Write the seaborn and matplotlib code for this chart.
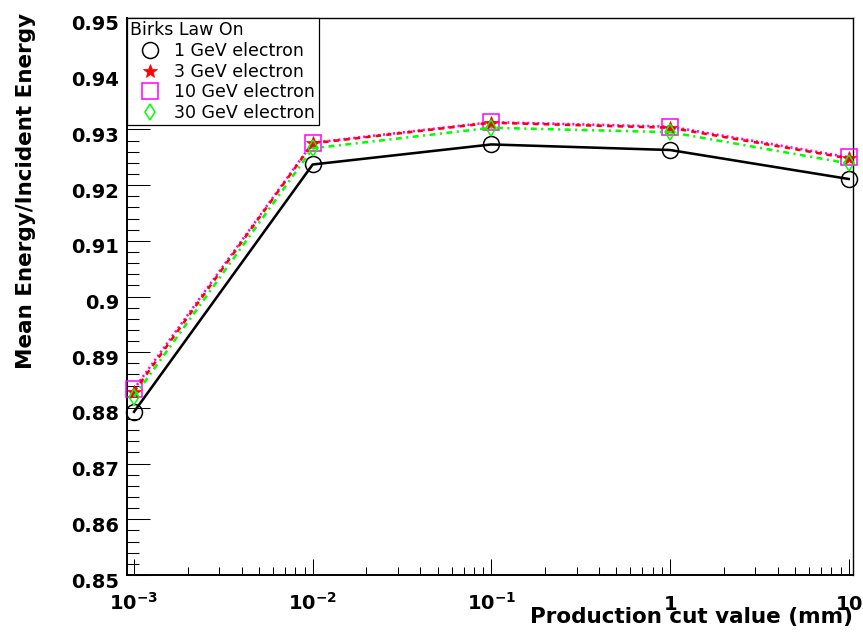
import numpy as np
import matplotlib
matplotlib.use("Agg")
import matplotlib.pyplot as plt
import matplotlib.transforms as mtransforms
from matplotlib.lines import Line2D
import seaborn as sns

# Mean deposited energy fraction versus production cut, one series per beam energy
cut_mm = [1e-3, 1e-2, 1e-1, 1.0, 10.0]
resp_1gev = [0.8793, 0.9237, 0.9273, 0.9263, 0.9211]
resp_3gev = [0.8829, 0.9275, 0.9312, 0.9303, 0.9248]
resp_10gev = [0.8834, 0.9276, 0.9313, 0.9305, 0.9250]
resp_30gev = [0.8820, 0.9266, 0.9303, 0.9295, 0.9239]
series_labels = ["1 GeV electron", "3 GeV electron", "10 GeV electron", "30 GeV electron"]
legend_title = "Birks Law On"

x_tick_values = [1e-3, 1e-2, 1e-1, 1.0, 10.0]
x_tick_labels = [r"$\mathbf{10^{-3}}$", r"$\mathbf{10^{-2}}$", r"$\mathbf{10^{-1}}$",
                 r"$\mathbf{1}$", r"$\mathbf{10}$"]
y_tick_values = [0.85, 0.86, 0.87, 0.88, 0.89, 0.90, 0.91, 0.92, 0.93, 0.94, 0.95]
y_tick_labels = ["0.85", "0.86", "0.87", "0.88", "0.89", "0.9",
                 "0.91", "0.92", "0.93", "0.94", "0.95"]
x_title = "Production cut value (mm)"
y_title = "Mean Energy/Incident Energy"

plt.rcParams["font.family"] = ["DejaVu Sans"]
plt.rcParams["mathtext.fontset"] = "dejavusans"
plt.rcParams["lines.scale_dashes"] = False

# ROOT-like marker / line styles (drawing order via zorder)
styles = [
    dict(color="black", linestyle="-", marker="o", markersize=11.5,
         markerfacecolor="none", markeredgecolor="black", markeredgewidth=1.1, zorder=3),
    dict(color="red", linestyle=(0, (3.8, 3.8)), marker="*", markersize=10.5,
         markerfacecolor="red", markeredgecolor="red", markeredgewidth=0.5, zorder=5),
    dict(color="#ff00ff", linestyle=(0, (1.5, 2.1)), marker="s", markersize=11.5,
         markerfacecolor="none", markeredgecolor="#ff00ff", markeredgewidth=1.1, zorder=4),
    dict(color="#00ff00", linestyle=(0, (4.3, 3.2, 1.5, 3.2)), marker="d", markersize=7.8,
         markerfacecolor="none", markeredgecolor="#00ff00", markeredgewidth=1.1, zorder=6),
]
series = [resp_1gev, resp_3gev, resp_10gev, resp_30gev]

fig = plt.figure(figsize=(8.63, 6.32), dpi=100)
ax = fig.add_axes([126.7 / 863, (632 - 575) / 632, (853 - 126.7) / 863, (575 - 18) / 632])
ax.set_xscale("log")

for vals, st in zip(series, styles):
    sns.lineplot(x=cut_mm, y=vals, ax=ax, errorbar=None, legend=False,
                 linewidth=1.85, clip_on=False, **st)

ax.set_xlim(10 ** -3.041, 10 ** 1.024)
ax.set_ylim(0.85, 0.95)

ax.set_xticks(x_tick_values, x_tick_labels)
ax.xaxis.set_minor_locator(matplotlib.ticker.LogLocator(base=10, subs=np.arange(2, 10), numticks=20))
ax.xaxis.set_minor_formatter(matplotlib.ticker.NullFormatter())
ax.set_yticks(y_tick_values, y_tick_labels)
ax.yaxis.set_minor_locator(matplotlib.ticker.MultipleLocator(0.002))

ax.tick_params(axis="y", which="major", direction="in", length=16.5, width=0.75,
               left=True, right=False, pad=5.3, labelsize=14)
ax.tick_params(axis="y", which="minor", direction="in", length=8.4, width=0.75,
               left=True, right=False)
ax.tick_params(axis="x", which="major", direction="in", length=11.5, width=0.75,
               bottom=True, top=False, pad=25.2, labelsize=14)
ax.tick_params(axis="x", which="minor", direction="in", length=5.5, width=0.75,
               bottom=True, top=False)

for lab in ax.get_xticklabels():
    lab.set_verticalalignment("baseline")
shift = mtransforms.ScaledTranslation(0, -0.125, fig.dpi_scale_trans)
for lab in ax.get_yticklabels():
    lab.set_fontweight("bold")
    lab.set_verticalalignment("baseline")
    lab.set_transform(lab.get_transform() + shift)

for side in ["left", "bottom"]:
    ax.spines[side].set_linewidth(1.4)
for side in ["top", "right"]:
    ax.spines[side].set_linewidth(1.0)

ax.set_xlabel(x_title, fontsize=15.5, fontweight="bold", loc="right")
ax.xaxis.set_label_coords(1.0, -48 / 557)
ax.xaxis.label.set_verticalalignment("baseline")

ax.set_ylabel(y_title, fontsize=15.5, fontweight="bold", loc="top")
ax.yaxis.set_label_coords((36 - 126.7) / 726.3, (575 - 13) / 557)

handles = [Line2D([], [], linestyle="none", marker=st["marker"], markersize=st["markersize"],
                  markerfacecolor=st["markerfacecolor"], markeredgecolor=st["markeredgecolor"],
                  markeredgewidth=st["markeredgewidth"]) for st in styles]
leg = ax.legend(handles, series_labels, title=legend_title, loc="upper left",
                bbox_to_anchor=(0, 1), borderaxespad=0, frameon=True, fancybox=False,
                edgecolor="black", framealpha=1, fontsize=12.5, title_fontsize=12.5,
                borderpad=0.2, handlelength=2.3, handletextpad=0.25, labelspacing=0.15,
                alignment="left")
leg.get_frame().set_linewidth(0.9)
leg.set_zorder(10)

fig.savefig("out.png", dpi=100, facecolor="white")
